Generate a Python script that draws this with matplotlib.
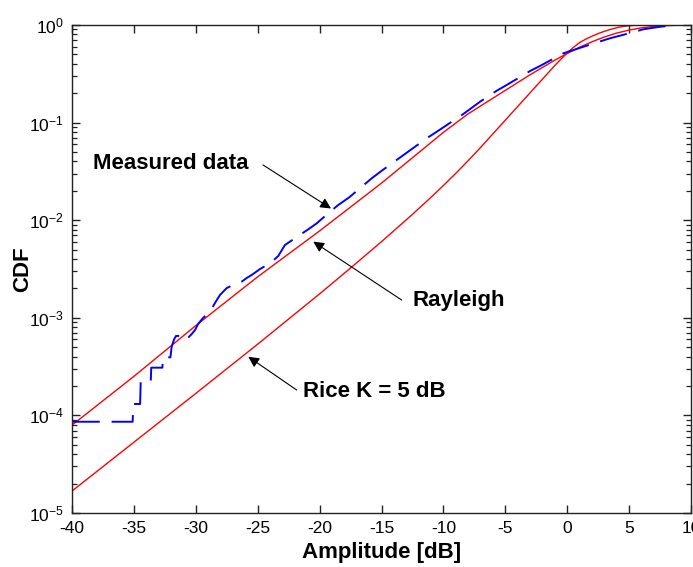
import numpy as np
import matplotlib
matplotlib.use('Agg')
import matplotlib.pyplot as plt
from matplotlib.ticker import FixedLocator, LogLocator, NullFormatter, FuncFormatter

# ---------------- data ----------------
# Measured data (empirical CDF), x in dB, y as log10(CDF)
meas_db = [-40, -35.1, -35.05, -34.5, -34.45, -33.64, -33.6, -32.7, -32.65, -32.05,
           -31.95, -31.75, -31.6, -30.95, -30.9, -30.7, -30.33, -30.06, -29.82, -29.42,
           -28.85, -28.45, -28.05, -27.5, -27.0, -26.29, -25.89, -25.48, -24.81, -24.0,
           -23.34, -22.8, -20.91, -20.23, -19.16, -18.49, -17.6, -15.79, -14.98, -11.35,
           -10.41, -8.39, -7.04, -5.69, -4.89, -2.95, -2.2, -0.31, 1.5, 3.46,
           5.0, 6.15, 7.5, 8.6]
meas_log = [-4.065, -4.065, -3.883, -3.883, -3.655, -3.655, -3.511, -3.511, -3.405, -3.405,
            -3.296, -3.22, -3.186, -3.186, -3.215, -3.215, -3.166, -3.125, -3.064, -3.002,
            -2.937, -2.848, -2.766, -2.695, -2.664, -2.630, -2.592, -2.561, -2.5, -2.442,
            -2.367, -2.254, -2.093, -2.032, -1.913, -1.844, -1.765, -1.571, -1.493, -1.161,
            -1.083, -0.912, -0.786, -0.673, -0.615, -0.468, -0.420, -0.290, -0.215, -0.136,
            -0.085, -0.044, -0.018, -0.004]

# Rayleigh CDF
ray_db = [-40, -35, -30, -25, -20, -15, -10, -8, -6, -5, -4, -3, -2, -1, 0,
          1, 2, 3, 4, 5, 6, 7, 8, 9, 10]
ray_log = [-4.10, -3.60, -3.08, -2.58, -2.11, -1.62, -1.10, -0.91, -0.75, -0.67, -0.59,
           -0.51, -0.435, -0.36, -0.292, -0.228, -0.172, -0.123, -0.083, -0.052, -0.029,
           -0.014, -0.006, -0.002, -0.0005]

# Rice K = 5 dB CDF
rice_db = [-40, -35, -30, -25, -20, -17.5, -15, -12.5, -11, -10, -9, -8, -7, -6, -5,
           -4, -3, -2, -1, 0, 0.5, 1, 1.5, 2, 2.5, 3, 3.5, 4, 4.5, 5, 5.5, 6, 7, 10]
rice_log = [-4.775, -4.275, -3.775, -3.27, -2.755, -2.49, -2.22, -1.94, -1.765, -1.645,
            -1.52, -1.39, -1.255, -1.115, -0.975, -0.835, -0.695, -0.555, -0.415, -0.285,
            -0.23, -0.18, -0.145, -0.115, -0.088, -0.065, -0.045, -0.028, -0.015, -0.007,
            -0.003, -0.001, 0.0, 0.0]

x_ticks = [-40, -35, -30, -25, -20, -15, -10, -5, 0, 5, 10]
y_ticks = [1e-5, 1e-4, 1e-3, 1e-2, 1e-1, 1e0]

# ---------------- style ----------------
plt.rcParams['font.family'] = ['Liberation Sans', 'DejaVu Sans']
plt.rcParams['axes.unicode_minus'] = False
plt.rcParams['mathtext.fontset'] = 'custom'
plt.rcParams['mathtext.rm'] = 'Liberation Sans'
plt.rcParams['lines.scale_dashes'] = False

fig = plt.figure(figsize=(6.93, 5.67), dpi=100)
ax = fig.add_axes([72 / 693, 1 - 513 / 567, 619 / 693, 488 / 567])

ax.plot(ray_db, 10 ** np.array(ray_log), color='#ff0000', lw=1.0)
ax.plot(rice_db, 10 ** np.array(rice_log), color='#ff0000', lw=1.0)
ax.plot(meas_db, 10 ** np.array(meas_log), color='#0000ff', lw=1.4,
        dashes=(20, 8.5))

ax.set_yscale('log')
ax.set_xlim(-40, 10)
ax.set_ylim(1e-5, 1)
ax.xaxis.set_major_locator(FixedLocator(x_ticks))
ax.yaxis.set_major_locator(FixedLocator(y_ticks))
ax.yaxis.set_minor_locator(LogLocator(base=10, subs=np.arange(2, 10)))
ax.yaxis.set_minor_formatter(NullFormatter())
ax.yaxis.set_major_formatter(FuncFormatter(
    lambda v, p: r'$\mathdefault{10^{%d}}$' % int(round(np.log10(v)))))
ax.xaxis.set_major_formatter(FuncFormatter(lambda v, p: '%d' % v))

ax.tick_params(which='both', direction='in', top=True, right=True,
               labelsize=12.5, colors='#222222', labelcolor='black')
ax.tick_params(which='major', length=6, width=1.0, pad=6)
ax.tick_params(which='minor', length=3.5, width=0.9)
for s in ax.spines.values():
    s.set_linewidth(1.0)
    s.set_color('#222222')

ax.set_xlabel('Amplitude [dB]', fontsize=16, fontweight='bold', labelpad=4)
ax.set_ylabel('CDF', fontsize=16, fontweight='bold')
ax.yaxis.set_label_coords(-0.063, 0.5)

# annotations
arrow = dict(arrowstyle='-|>', color='black', lw=0.8, mutation_scale=16,
             shrinkA=0, shrinkB=0)
ax.annotate('', xy=(-19.08, 10 ** -1.880), xytext=(-24.57, 10 ** -1.434),
            arrowprops=arrow)
ax.annotate('', xy=(-20.51, 10 ** -2.220), xytext=(-13.37, 10 ** -2.818),
            arrowprops=arrow)
ax.annotate('', xy=(-25.76, 10 ** -3.399), xytext=(-21.85, 10 ** -3.740),
            arrowprops=arrow)
ax.text(-38.30, 10 ** -1.414, 'Measured data', fontsize=16, fontweight='bold',
        ha='left', va='center')
ax.text(-12.46, 10 ** -2.818, 'Rayleigh', fontsize=16, fontweight='bold',
        ha='left', va='center')
ax.text(-21.34, 10 ** -3.760, 'Rice K = 5 dB', fontsize=16, fontweight='bold',
        ha='left', va='center')

fig.savefig('out.png', dpi=100)
